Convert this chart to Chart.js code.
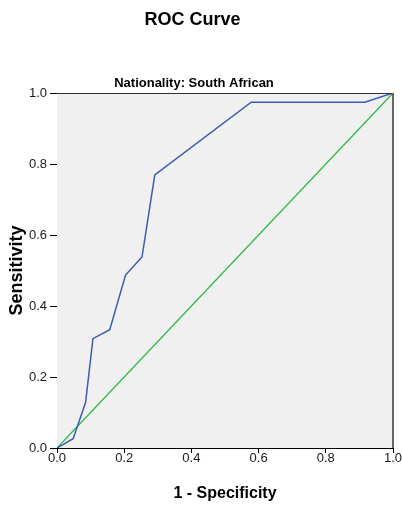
<!DOCTYPE html>
<html>
<head>
<meta charset="utf-8">
<title>ROC Curve</title>
<script src="https://cdn.jsdelivr.net/npm/chart.js@4.4.1/dist/chart.umd.min.js"></script>
<style>
  html, body { margin: 0; padding: 0; background: #fff; }
  #wrap { width: 402px; height: 506px; }
</style>
</head>
<body>
<div id="wrap"><canvas id="roc" width="402" height="506"></canvas></div>
<script>
// ROC curve values
const specComplement = [0, 0.048, 0.085, 0.107, 0.157, 0.204, 0.253, 0.291, 0.578, 0.916, 1];
const sensitivity = [0, 0.026, 0.128, 0.308, 0.333, 0.487, 0.538, 0.769, 0.974, 0.974, 1];
const refX = [0, 1];
const refY = [0, 1];
const tickValues = [0, 0.2, 0.4, 0.6, 0.8, 1.0];

const chartTitle = 'ROC Curve';
const subTitle = 'Nationality: South African';

const FONT = '"Liberation Sans", Arial, sans-serif';

// plot background, frame and headings
const frame = {
  id: 'frame',
  beforeDatasetsDraw(chart) {
    const { ctx, chartArea: a } = chart;
    ctx.save();
    ctx.fillStyle = '#f0f0f0';
    ctx.fillRect(a.left, a.top, a.right - a.left, a.bottom - a.top);
    ctx.restore();
  },
  afterDraw(chart) {
    const { ctx, chartArea: a } = chart;
    ctx.save();
    ctx.strokeStyle = '#333';
    ctx.lineWidth = 1;
    ctx.beginPath();
    ctx.moveTo(a.left, a.top + 0.5);
    ctx.lineTo(a.right, a.top + 0.5);
    ctx.stroke();
    ctx.strokeStyle = '#666';
    ctx.lineWidth = 2;
    ctx.beginPath();
    ctx.moveTo(a.right, a.top);
    ctx.lineTo(a.right, a.bottom);
    ctx.stroke();

    ctx.fillStyle = '#000';
    ctx.textAlign = 'center';
    ctx.textBaseline = 'alphabetic';
    ctx.font = 'bold 18px ' + FONT;
    ctx.fillText(chartTitle, 192.5, 25);
    ctx.font = 'bold 13px ' + FONT;
    ctx.fillText(subTitle, 194, 87);
    ctx.restore();
  }
};

function toPoints(xs, ys) {
  return xs.map((x, i) => ({ x, y: ys[i] }));
}

const ctx = document.getElementById('roc').getContext('2d');
new Chart(ctx, {
  type: 'line',
  data: {
    datasets: [
      {
        label: 'ROC',
        data: toPoints(specComplement, sensitivity),
        borderColor: '#3d5cb0',
        borderWidth: 1.5,
        pointRadius: 0,
        tension: 0,
        fill: false,
      },
      {
        label: 'Reference',
        data: toPoints(refX, refY),
        borderColor: '#2fba45',
        borderWidth: 1.3,
        pointRadius: 0,
        tension: 0,
        fill: false,
      },
    ],
  },
  options: {
    responsive: false,
    animation: false,
    layout: { padding: { top: 93, right: 9, bottom: 0, left: 0 } },
    plugins: {
      legend: { display: false },
      title: { display: false },
      tooltip: { enabled: false },
    },
    scales: {
      x: {
        type: 'linear',
        min: 0,
        max: 1,
        afterFit: (scale) => { scale.height = 58; },
        afterBuildTicks: (scale) => { scale.ticks = tickValues.map((v) => ({ value: v })); },
        ticks: {
          padding: -2,
          color: '#1a1a1a',
          font: { family: FONT, size: 13 },
          callback: (v) => Number(v).toFixed(1),
        },
        grid: { drawOnChartArea: false, drawTicks: true, tickLength: 5, color: '#000' },
        border: { display: true, color: '#000', width: 1 },
        title: {
          display: true,
          text: '1 - Specificity',
          color: '#000',
          font: { family: FONT, size: 16, weight: 'bold' },
          padding: { top: 0, bottom: 3 },
        },
      },
      y: {
        type: 'linear',
        min: 0,
        max: 1,
        afterFit: (scale) => { scale.width = 57; },
        afterBuildTicks: (scale) => { scale.ticks = tickValues.map((v) => ({ value: v })); },
        ticks: {
          padding: 3,
          color: '#1a1a1a',
          font: { family: FONT, size: 13 },
          callback: (v) => Number(v).toFixed(1),
        },
        grid: { drawOnChartArea: false, drawTicks: true, tickLength: 7, color: '#000' },
        border: { display: true, color: '#000', width: 1 },
        title: {
          display: true,
          text: 'Sensitivity',
          color: '#000',
          font: { family: FONT, size: 18, weight: 'bold' },
          padding: { top: 6, bottom: 0 },
        },
      },
    },
  },
  plugins: [frame],
});
</script>
</body>
</html>
